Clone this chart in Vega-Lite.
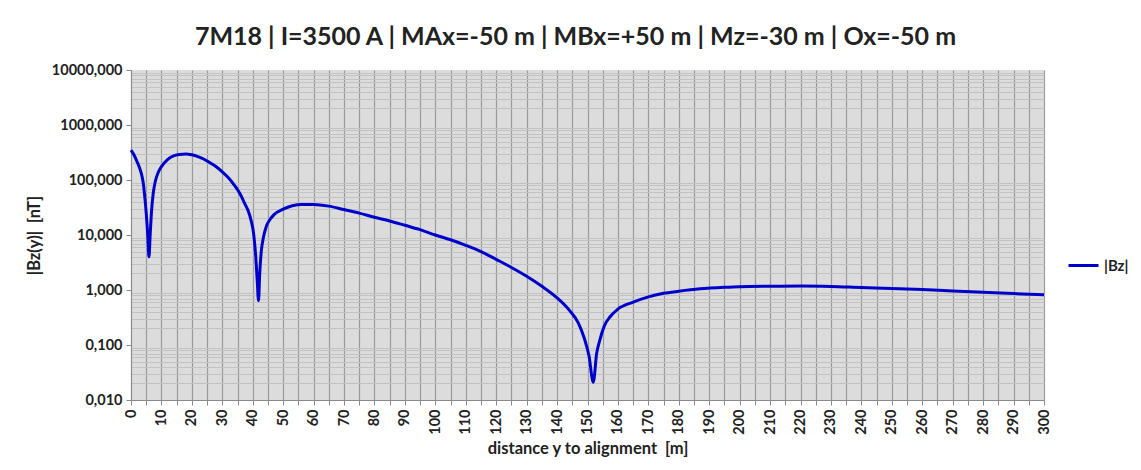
{
  "$schema": "https://vega.github.io/schema/vega-lite/v6.json",
  "width": 913,
  "height": 330,
  "autosize": {"type": "none"},
  "padding": {"left": 131, "top": 70, "right": 97, "bottom": 70},
  "background": "white",
  "title": {
    "text": "7M18 | I=3500 A | MAx=-50 m | MBx=+50 m | Mz=-30 m | Ox=-50 m",
    "font": "Lato",
    "fontSize": 25,
    "fontWeight": "bold",
    "color": "#222222",
    "anchor": "middle",
    "frame": "group",
    "dx": -12,
    "offset": 12
  },
  "config": {
    "view": {"fill": "#dcdcdc", "stroke": null},
    "font": "Lato"
  },
  "data": {
    "values": [
      {"y": 0, "bz": 350}, {"y": 1, "bz": 285}, {"y": 2, "bz": 215}, {"y": 3, "bz": 155},
      {"y": 3.5, "bz": 125}, {"y": 4, "bz": 90}, {"y": 4.6, "bz": 45}, {"y": 5, "bz": 25},
      {"y": 5.5, "bz": 10}, {"y": 5.9, "bz": 4.0}, {"y": 6.3, "bz": 10}, {"y": 6.7, "bz": 25},
      {"y": 7.3, "bz": 57}, {"y": 8, "bz": 95}, {"y": 9, "bz": 140}, {"y": 10, "bz": 175},
      {"y": 12, "bz": 235}, {"y": 14, "bz": 275}, {"y": 16, "bz": 292}, {"y": 18, "bz": 298},
      {"y": 20, "bz": 287}, {"y": 22, "bz": 266}, {"y": 24, "bz": 238}, {"y": 26, "bz": 205},
      {"y": 28, "bz": 174}, {"y": 30, "bz": 141}, {"y": 32, "bz": 110}, {"y": 34, "bz": 80},
      {"y": 36, "bz": 54}, {"y": 37.5, "bz": 36}, {"y": 38.5, "bz": 27.5}, {"y": 39.5, "bz": 18},
      {"y": 40.3, "bz": 10.5}, {"y": 41, "bz": 4}, {"y": 41.5, "bz": 1.4}, {"y": 41.9, "bz": 0.64},
      {"y": 42.3, "bz": 2}, {"y": 42.8, "bz": 5}, {"y": 43.5, "bz": 9}, {"y": 44.4, "bz": 14},
      {"y": 45.5, "bz": 18.5}, {"y": 47, "bz": 23.5}, {"y": 50, "bz": 29.5}, {"y": 53, "bz": 34},
      {"y": 56, "bz": 36}, {"y": 60, "bz": 36}, {"y": 65, "bz": 33.5},
      {"y": 70, "bz": 29}, {"y": 75, "bz": 25}, {"y": 80, "bz": 21}, {"y": 85, "bz": 18},
      {"y": 90, "bz": 15}, {"y": 95, "bz": 12.5}, {"y": 100, "bz": 10}, {"y": 105, "bz": 8.2},
      {"y": 110, "bz": 6.5}, {"y": 115, "bz": 5}, {"y": 120, "bz": 3.6}, {"y": 125, "bz": 2.57},
      {"y": 130, "bz": 1.78}, {"y": 135, "bz": 1.17}, {"y": 140, "bz": 0.72}, {"y": 144, "bz": 0.43},
      {"y": 147, "bz": 0.25}, {"y": 149, "bz": 0.13}, {"y": 150.5, "bz": 0.063}, {"y": 151.9, "bz": 0.021},
      {"y": 153, "bz": 0.07}, {"y": 154, "bz": 0.12}, {"y": 155.5, "bz": 0.22}, {"y": 157.5, "bz": 0.33},
      {"y": 160, "bz": 0.45}, {"y": 165, "bz": 0.6}, {"y": 170, "bz": 0.75}, {"y": 175, "bz": 0.87},
      {"y": 180, "bz": 0.95}, {"y": 187, "bz": 1.05}, {"y": 195, "bz": 1.12}, {"y": 200, "bz": 1.15},
      {"y": 210, "bz": 1.17}, {"y": 220, "bz": 1.18}, {"y": 230, "bz": 1.16}, {"y": 240, "bz": 1.11},
      {"y": 250, "bz": 1.07}, {"y": 260, "bz": 1.02}, {"y": 270, "bz": 0.96}, {"y": 280, "bz": 0.91},
      {"y": 290, "bz": 0.86}, {"y": 300, "bz": 0.82}
    ]
  },
  "encoding": {
    "x": {
      "field": "y", "type": "quantitative",
      "scale": {"domain": [0, 300], "nice": false, "zero": false},
      "axis": {
        "values": [0,5,10,15,20,25,30,35,40,45,50,55,60,65,70,75,80,85,90,95,100,105,110,115,120,125,130,135,140,145,150,155,160,165,170,175,180,185,190,195,200,205,210,215,220,225,230,235,240,245,250,255,260,265,270,275,280,285,290,295,300],
        "labelExpr": "datum.value % 10 === 0 ? datum.label : ''",
        "labelAngle": -90,
        "labelAlign": "right",
        "labelBaseline": "middle",
        "labelFont": "Lato",
        "labelFontSize": 14.5,
        "labelFontWeight": "bold",
        "labelColor": "#222222",
        "labelPadding": 4,
        "labelOverlap": false,
        "labelFlush": false,
        "gridColor": "#9a9a9a",
        "gridWidth": 1.2,
        "domainColor": "#8a8a8a",
        "tickColor": "#8a8a8a",
        "tickSize": 5,
        "title": "distance y to alignment\u00a0\u00a0[m]",
        "titleFont": "Lato",
        "titleFontSize": 16.5,
        "titleFontWeight": "bold",
        "titleColor": "#222222",
        "titlePadding": 6
      }
    }
  },
  "resolve": {"axis": {"y": "independent"}},
  "layer": [
    {
      "mark": {"type": "line", "opacity": 0},
      "encoding": {
        "y": {
          "field": "bz", "type": "quantitative",
          "scale": {"type": "log", "domain": [0.01, 10000], "nice": false},
          "axis": {
            "orient": "left",
            "values": [0.02,0.03,0.04,0.05,0.06,0.07,0.08,0.09,0.2,0.3,0.4,0.5,0.6,0.7,0.8,0.9,2,3,4,5,6,7,8,9,20,30,40,50,60,70,80,90,200,300,400,500,600,700,800,900,2000,3000,4000,5000,6000,7000,8000,9000],
            "labels": false,
            "ticks": false,
            "domain": false,
            "title": null,
            "gridColor": "#c2c2c2",
            "gridWidth": 1
          }
        }
      }
    },
    {
      "mark": {"type": "line", "strokeWidth": 3, "interpolate": "monotone"},
      "encoding": {
        "y": {
          "field": "bz", "type": "quantitative",
          "axis": {
            "orient": "left",
            "values": [0.01, 0.1, 1, 10, 100, 1000, 10000],
            "labelExpr": "replace(format(datum.value, '.3f'), '.', ',')",
            "labelFont": "Lato",
            "labelFontSize": 14.5,
            "labelFontWeight": "bold",
            "labelColor": "#222222",
            "labelPadding": 4,
            "gridColor": "#8a8a8a",
            "gridWidth": 1.2,
            "domainColor": "#8a8a8a",
            "tickColor": "#8a8a8a",
            "tickSize": 5,
            "title": "|Bz(y)|\u00a0\u00a0[nT]",
            "titleFont": "Lato",
            "titleFontSize": 16.5,
            "titleFontWeight": "bold",
            "titleColor": "#222222",
            "titlePadding": 9
          }
        },
        "color": {
          "datum": "|Bz|",
          "type": "nominal",
          "scale": {"range": ["#0000cc"]},
          "legend": {
            "orient": "none",
            "legendX": 936,
            "legendY": 179,
            "title": null,
            "symbolType": "stroke",
            "symbolStrokeWidth": 3,
            "symbolSize": 900,
            "labelFont": "Lato",
            "labelFontSize": 15,
            "labelFontWeight": "bold",
            "labelColor": "#222222"
          }
        }
      }
    }
  ]
}
